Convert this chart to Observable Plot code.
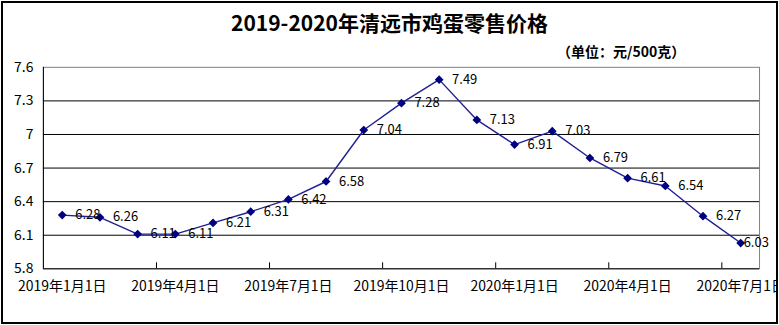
<!DOCTYPE html>
<html>
<head>
<meta charset="utf-8">
<script src="https://cdn.jsdelivr.net/npm/d3@7"></script>
<script src="https://cdn.jsdelivr.net/npm/@observablehq/plot@0.6"></script>
<style>
  html, body { margin: 0; padding: 0; background: #fff; }
  #wrap { position: relative; width: 779px; height: 325px; overflow: hidden; font-family: "Noto Sans CJK SC", sans-serif; }
  #clip { position: absolute; left: 0; top: 0; width: 777px; height: 325px; overflow: hidden; }
  #border { position: absolute; left: 1px; top: 1px; width: 777px; height: 323px; box-sizing: border-box; border: 2px solid #000; pointer-events: none; }
  #title { position: absolute; left: 0; width: 779px; top: 7px; text-align: center; font-size: 21px; font-weight: bold; color: #000; line-height: 30px; }
  #unit { position: absolute; left: 557px; top: 41px; font-size: 14px; font-weight: bold; color: #000; line-height: 20px; white-space: nowrap; }
</style>
</head>
<body>
<div id="wrap">
  <div id="clip"></div>
  <div id="title">2019-2020年清远市鸡蛋零售价格</div>
  <div id="unit">（单位：元/500克）</div>
  <div id="border"></div>
</div>
<script>
// Monthly categories (Jan 2019 – Jul 2020)
const months = ["2019-01","2019-02","2019-03","2019-04","2019-05","2019-06","2019-07","2019-08","2019-09","2019-10",
                "2019-11","2019-12","2020-01","2020-02","2020-03","2020-04","2020-05","2020-06","2020-07"];
const prices = [6.28, 6.26, 6.11, 6.11, 6.21, 6.31, 6.42, 6.58, 7.04, 7.28,
                7.49, 7.13, 6.91, 7.03, 6.79, 6.61, 6.54, 6.27, 6.03];
const xTickLabels = ["2019年1月1日","2019年4月1日","2019年7月1日","2019年10月1日","2020年1月1日","2020年4月1日","2020年7月1日"];
const yTicks = [5.8, 6.1, 6.4, 6.7, 7.0, 7.3, 7.6];

const data = months.map((m, i) => ({i, month: m, price: prices[i]}));
const labelIdx = xTickLabels.map((_, k) => k * 3);          // categories that carry a label
const boundaries = labelIdx.slice(1).map(i => i - 0.5);      // tick marks between categories
const font = "Noto Sans CJK SC, sans-serif";
const inner = data.slice(0, -1);
const last = data.slice(-1);

const chart = Plot.plot({
  width: 779,
  height: 325,
  marginLeft: 43,
  marginRight: 18,
  marginTop: 67,
  marginBottom: 56,
  style: {fontFamily: font, background: "transparent", overflow: "visible"},
  x: {type: "linear", domain: [-0.5, months.length - 0.5], axis: null},
  y: {domain: [5.8, 7.6], axis: null},
  marks: [
    Plot.frame({stroke: "#808080"}),
    Plot.ruleY(yTicks.filter(d => d > 5.8 && d < 7.6), {stroke: "#000", strokeWidth: 1}),
    Plot.ruleX([-0.5], {stroke: "#000", strokeWidth: 1}),
    Plot.ruleY([5.8], {stroke: "#000", strokeWidth: 1}),
    Plot.axisY(yTicks, {tickSize: 0, tickPadding: 10, fontSize: 14, fill: "#000", label: null,
      tickFormat: d => String(+d.toFixed(1))}),
    Plot.axisX(labelIdx, {tickSize: 0, tickPadding: 12, fontSize: 14, fill: "#000", label: null,
      tickFormat: i => xTickLabels[i / 3]}),
    Plot.axisX(boundaries, {tickSize: -6, text: null, stroke: "#000", label: null}),
    Plot.line(data, {x: "i", y: "price", stroke: "#1f1f96", strokeWidth: 1.4}),
    Plot.dot(data, {x: "i", y: "price", symbol: "diamond2", r: 3, fill: "#000080", stroke: "#000080"}),
    Plot.text(inner, {x: "i", y: "price", text: d => d.price.toFixed(2), dx: 13, textAnchor: "start",
      fontSize: 13, fill: "#000", fontFamily: font}),
    Plot.text(last, {x: "i", y: "price", text: d => d.price.toFixed(2), dx: 3, textAnchor: "start",
      fontSize: 13, fill: "#000", fontFamily: font})
  ]
});
document.getElementById("clip").appendChild(chart);
</script>
</body>
</html>
